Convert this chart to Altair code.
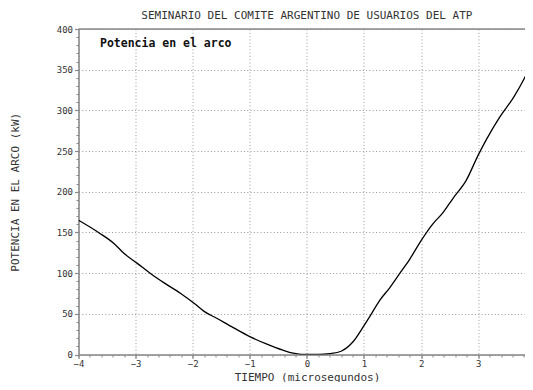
import altair as alt
import pandas as pd

# Curve
tiempo = [-4.0, -3.65, -3.38, -3.2, -2.97, -2.74, -2.5, -2.21, -1.97, -1.8, -1.58,
          -1.29, -1.0, -0.71, -0.42, -0.24, -0.1, 0.0, 0.22, 0.4, 0.6, 0.8, 1.0,
          1.13, 1.27, 1.45, 1.62, 1.8, 2.0, 2.2, 2.38, 2.56, 2.79, 3.0, 3.15, 3.38,
          3.62, 3.85, 3.96]
potencia = [165, 150, 136.5, 124, 112, 99.6, 88, 75, 62.7, 53, 44.5,
            33, 22, 13, 5.3, 1.6, 0.2, 0, 0, 1, 4, 15, 35.5,
            50, 66, 82, 99, 117, 140, 160, 174, 192, 214, 245, 265, 292,
            316, 345, 361]

x_ticks = [-4, -3, -2, -1, 0, 1, 2, 3]
y_ticks = [0, 50, 100, 150, 200, 250, 300, 350, 400]
x_minor = [round(-4 + 0.2 * i, 1) for i in range(40)]
y_minor = list(range(0, 401, 10))
x_domain = [-4, 3.82]   # the reference is cropped at the right edge
y_domain = [0, 400]

titulo = "SEMINARIO DEL COMITE ARGENTINO DE USUARIOS DEL ATP"
x_titulo = "TIEMPO (microsegundos)"
y_titulo = "POTENCIA EN EL ARCO (kW)"
etiqueta = "Potencia en el arco"

df = pd.DataFrame({"t": tiempo, "p": potencia})

FONT = "DejaVu Sans Mono"
W, H = 446.5, 325.5
GRAY = "#8a8a8a"

xs = alt.Scale(domain=x_domain, nice=False, zero=False)
ys = alt.Scale(domain=y_domain, nice=False)

line = alt.Chart(df).mark_line(color="#000000", strokeWidth=1.3, clip=True,
                               interpolate="monotone").encode(
    x=alt.X("t:Q", scale=xs, axis=alt.Axis(
        values=x_ticks, title=x_titulo, grid=True, gridDash=[1, 2.3],
        gridColor="#9a9a9a", gridWidth=1, domainColor=GRAY, domainWidth=1.5,
        tickColor=GRAY, tickSize=4, tickWidth=1.2, labelPadding=1,
        labelFont=FONT, labelFontSize=9, labelColor="#333333", format="d",
        titleFont=FONT, titleFontSize=11, titleFontWeight="normal", titleColor="#333333",
        titleX=228.5, titleY=22.5, titleBaseline="middle", titleAlign="center",
        labelFlush=False, orient="bottom")),
    y=alt.Y("p:Q", scale=ys, axis=alt.Axis(
        values=y_ticks, title=y_titulo, grid=True, gridDash=[1, 2.3],
        gridColor="#9a9a9a", gridWidth=1, domainColor=GRAY, domainWidth=1.5,
        tickColor=GRAY, tickSize=4, tickWidth=1.2, labelPadding=2,
        labelFont=FONT, labelFontSize=9, labelColor="#333333", format="d",
        titleFont=FONT, titleFontSize=11, titleFontWeight="normal", titleColor="#333333",
        titleX=-63.5, titleY=162.75, titleBaseline="middle", titleAlign="center",
        titleAngle=270, labelFlush=False, orient="left")),
)

minor = alt.Chart(df).mark_line(opacity=0).encode(
    x=alt.X("t:Q", scale=xs, axis=alt.Axis(
        values=x_minor, labels=False, grid=False, domain=False, title=None,
        tickColor=GRAY, tickSize=2.5, tickWidth=1, orient="bottom")),
    y=alt.Y("p:Q", scale=ys, axis=alt.Axis(
        values=y_minor, labels=False, grid=False, domain=False, title=None,
        tickColor=GRAY, tickSize=2.5, tickWidth=1, orient="left")),
)

top_border = alt.Chart(pd.DataFrame({"v": [y_domain[1]]})).mark_rule(
    color=GRAY, strokeWidth=1.5).encode(
    y=alt.Y("v:Q", scale=ys, axis=None))

label = alt.Chart(pd.DataFrame({"txt": [etiqueta]})).mark_text(
    font=FONT, fontSize=11.5, fontWeight="bold", color="#111111",
    align="left", baseline="middle").encode(
    x=alt.value(21.5), y=alt.value(14.5), text="txt:N")

title_mark = alt.Chart(pd.DataFrame({"txt": [titulo]})).mark_text(
    font=FONT, fontSize=11, color="#333333",
    align="center", baseline="middle").encode(
    x=alt.value(228.4), y=alt.value(-12.7), text="txt:N")

chart = alt.layer(line, minor, top_border, label, title_mark).resolve_axis(
    x="independent", y="independent"
).properties(
    width=W, height=H,
    autosize=alt.AutoSizeParams(type="none"),
    padding={"left": 70.5, "top": 21, "right": 0, "bottom": 27.5},
).configure_view(strokeWidth=0).configure(background="white")

chart.save("out.html", embed_options={"renderer": "svg", "actions": False})
